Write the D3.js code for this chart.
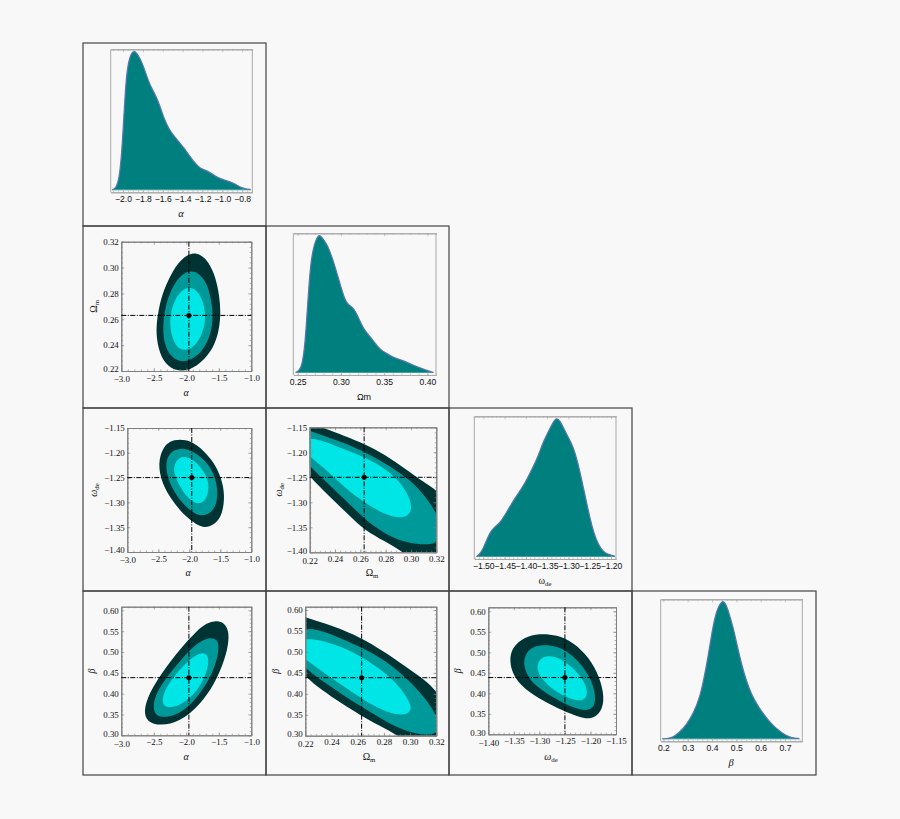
<!DOCTYPE html>
<html><head><meta charset="utf-8">
<script src="https://cdn.jsdelivr.net/npm/d3@7/dist/d3.min.js"></script>
<style>html,body{margin:0;padding:0;background:#f8f8f8}svg{display:block}</style>
</head><body><svg id="c" width="900" height="819"></svg>
<script>
// ---------- marginal densities ----------
const alphaX=[-2.107,-2.07,-2.037,-2.013,-1.997,-1.98,-1.963,-1.943,-1.923,-1.903,-1.879,-1.856,-1.829,-1.795,-1.762,-1.728,-1.688,-1.644,-1.611,-1.567,-1.527,-1.477,-1.426,-1.376,-1.326,-1.275,-1.225,-1.174,-1.124,-1.057,-.99,-.889,-.822,-.772,-.715];
const alphaP=[0,.012,.085,.266,.459,.676,.845,.93,.978,1.003,1.005,.986,.954,.899,.826,.761,.708,.64,.568,.483,.43,.382,.338,.295,.242,.193,.157,.143,.126,.092,.072,.051,.019,.007,.002];
const omegaMX=[.2477,.2519,.2554,.2585,.2608,.2631,.2654,.2681,.2708,.2739,.2758,.2797,.2847,.2893,.294,.299,.304,.3078,.3144,.3194,.326,.3337,.3395,.3453,.353,.3607,.3703,.3819,.3935,.407];
const omegaMP=[0,.015,.058,.203,.421,.639,.809,.906,.966,1.003,1.005,.978,.93,.852,.76,.651,.542,.499,.477,.416,.319,.264,.215,.167,.14,.109,.092,.058,.029,0];
const wdeX=[-1.5157,-1.5078,-1.5,-1.4922,-1.4828,-1.4726,-1.4608,-1.4491,-1.4334,-1.4178,-1.4021,-1.3865,-1.3731,-1.359,-1.3473,-1.3356,-1.3277,-1.3199,-1.3081,-1.2948,-1.2847,-1.2729,-1.2612,-1.2494,-1.24,-1.2298,-1.2181,-1.2063,-1.1907];
const wdeP=[0,.019,.058,.119,.184,.216,.245,.301,.386,.459,.532,.629,.714,.835,.908,.98,1.01,.988,.913,.835,.762,.617,.447,.277,.167,.087,.034,.015,.002];
const betaX=[.196,.2205,.241,.2685,.2959,.3233,.3507,.3671,.3849,.3986,.4123,.426,.4397,.4493,.4603,.474,.4877,.5014,.5219,.5425,.563,.5904,.6178,.6452,.6726,.7,.7274,.7589];
const betaP=[.002,.002,.012,.051,.105,.185,.307,.441,.61,.766,.893,.966,1.003,1.005,.971,.893,.807,.698,.539,.417,.32,.234,.166,.107,.063,.027,.007,.002];

// ---------- contours, [x, y] in data units ----------
const aM_out=[[-1.944,.3102],[-1.79,.3092],[-1.662,.3032],[-1.559,.2916],[-1.503,.2775],[-1.482,.2633],[-1.523,.2478],[-1.636,.2349],[-1.841,.2246],[-2.046,.2208],[-2.226,.2226],[-2.379,.2311],[-2.446,.2453],[-2.446,.2581],[-2.379,.2762],[-2.277,.2891],[-2.123,.3032]];
const aM_mid=[[-1.944,.2968],[-1.815,.295],[-1.697,.2878],[-1.626,.2749],[-1.595,.262],[-1.636,.2478],[-1.764,.2355],[-1.944,.229],[-2.097,.228],[-2.241,.2324],[-2.328,.2414],[-2.354,.2543],[-2.313,.2697],[-2.226,.2826],[-2.097,.2929]];
const aM_in=[[-1.933,.2844],[-1.831,.2813],[-1.749,.2736],[-1.708,.2633],[-1.738,.2517],[-1.841,.2414],[-1.969,.2368],[-2.097,.237],[-2.19,.2427],[-2.241,.253],[-2.241,.2633],[-2.174,.2749],[-2.056,.2826]];

const aW_out=[[-2.151,-1.1749],[-1.962,-1.1789],[-1.774,-1.197],[-1.613,-1.2206],[-1.495,-1.2508],[-1.441,-1.2844],[-1.478,-1.3214],[-1.586,-1.3415],[-1.774,-1.3503],[-1.935,-1.3382],[-2.124,-1.318],[-2.312,-1.2878],[-2.446,-1.2542],[-2.484,-1.2206],[-2.419,-1.1937],[-2.312,-1.1789]];
const aW_mid=[[-2.151,-1.1923],[-1.989,-1.1957],[-1.801,-1.2105],[-1.64,-1.234],[-1.559,-1.2642],[-1.559,-1.2978],[-1.64,-1.318],[-1.801,-1.3267],[-1.962,-1.318],[-2.151,-1.2945],[-2.285,-1.2676],[-2.366,-1.2374],[-2.355,-1.2138],[-2.285,-1.1991]];
const aW_in=[[-2.124,-1.2078],[-1.989,-1.2105],[-1.828,-1.2273],[-1.71,-1.2508],[-1.688,-1.2743],[-1.747,-1.2965],[-1.882,-1.3032],[-2.016,-1.2911],[-2.151,-1.2676],[-2.247,-1.2407],[-2.231,-1.2206]];

const mW_out=[[.2084,-1.1347],[.22,-1.1447],[.2295,-1.1487],[.2479,-1.168],[.2637,-1.1833],[.2795,-1.2047],[.2953,-1.2327],[.3111,-1.2613],[.32,-1.2747],[.3321,-1.3113],[.3374,-1.378],[.3268,-1.4247],[.3111,-1.4313],[.2939,-1.4],[.2795,-1.378],[.2637,-1.3567],[.2505,-1.3247],[.2347,-1.286],[.22,-1.2493],[.2084,-1.2113],[.2032,-1.1647]];
const mW_mid=[[.2111,-1.1513],[.22,-1.1567],[.2268,-1.1633],[.2479,-1.1813],[.2637,-1.2],[.2795,-1.2213],[.2953,-1.248],[.3084,-1.278],[.32,-1.318],[.3242,-1.358],[.32,-1.3833],[.3111,-1.3847],[.2979,-1.3813],[.2821,-1.368],[.2637,-1.3347],[.2505,-1.3013],[.2347,-1.2633],[.22,-1.228],[.2124,-1.2047],[.2084,-1.178]];
const mW_in=[[.22,-1.1713],[.2321,-1.178],[.2479,-1.1947],[.2637,-1.21],[.2768,-1.228],[.29,-1.2547],[.2979,-1.2847],[.3011,-1.3113],[.2979,-1.328],[.29,-1.3313],[.2795,-1.3247],[.2637,-1.3013],[.2479,-1.2713],[.2347,-1.238],[.22,-1.2093],[.2137,-1.1913],[.2132,-1.1747]];

const aB_out=[[-1.585,.5712],[-1.431,.5688],[-1.354,.5448],[-1.379,.5048],[-1.482,.4568],[-1.636,.4088],[-1.841,.3688],[-2.097,.3368],[-2.379,.3264],[-2.585,.3352],[-2.636,.3608],[-2.559,.4008],[-2.354,.4528],[-2.097,.5048],[-1.841,.5488],[-1.687,.5664]];
const aB_mid=[[-1.662,.5328],[-1.533,.5288],[-1.503,.5048],[-1.585,.4568],[-1.738,.4128],[-1.944,.3728],[-2.174,.3488],[-2.405,.3448],[-2.497,.3592],[-2.482,.3928],[-2.328,.4328],[-2.097,.4768],[-1.867,.5168]];
const aB_in=[[-1.764,.4984],[-1.677,.4912],[-1.662,.4688],[-1.738,.4328],[-1.892,.3968],[-2.097,.3728],[-2.303,.3664],[-2.369,.3808],[-2.328,.4088],[-2.149,.4488],[-1.944,.4824]];

const mB_out=[[.2121,.592],[.22,.5824],[.235,.5681],[.2503,.5506],[.263,.5323],[.2783,.5045],[.2961,.4663],[.3113,.4329],[.32,.4074],[.3292,.3613],[.3317,.3056],[.3164,.2737],[.3012,.2777],[.291,.3],[.2757,.3255],[.263,.3469],[.2477,.3772],[.2325,.409],[.22,.4408],[.2121,.4726],[.2083,.5442]];
const mB_mid=[[.22,.5601],[.235,.5482],[.2503,.5283],[.263,.5108],[.2783,.4846],[.2935,.4488],[.3088,.401],[.32,.3517],[.3228,.3215],[.32,.3072],[.3139,.3008],[.3012,.3072],[.2884,.3215],[.2757,.3453],[.263,.3692],[.2477,.3994],[.2325,.4313],[.22,.4607],[.2134,.4885],[.2121,.5363]];
const mB_in=[[.22,.5323],[.2325,.5283],[.2477,.5124],[.263,.4885],[.2783,.4567],[.291,.4209],[.2999,.3811],[.3012,.3597],[.2961,.3493],[.2859,.3517],[.2706,.3732],[.2554,.405],[.2401,.4368],[.2274,.4663],[.22,.4822],[.2147,.4965],[.2147,.5243]];

const wB_out=[[-1.2988,.5431],[-1.2662,.5398],[-1.2336,.522],[-1.2042,.4854],[-1.1846,.4407],[-1.1748,.3919],[-1.1813,.3553],[-1.2009,.339],[-1.2238,.3447],[-1.2531,.3593],[-1.2923,.3837],[-1.3282,.4122],[-1.3478,.4407],[-1.3563,.4772],[-1.351,.5098],[-1.3282,.5341]];
const wB_mid=[[-1.2923,.5163],[-1.2662,.5138],[-1.2368,.4935],[-1.2107,.4569],[-1.1944,.4163],[-1.1911,.3756],[-1.2042,.3593],[-1.227,.3634],[-1.2597,.3821],[-1.2956,.4081],[-1.3217,.439],[-1.3302,.4732],[-1.3236,.4976],[-1.3119,.5114]];
const wB_in=[[-1.2825,.4911],[-1.2597,.4854],[-1.2303,.4569],[-1.2107,.4244],[-1.2061,.3959],[-1.2172,.3813],[-1.2401,.3878],[-1.2727,.4081],[-1.2956,.4366],[-1.3047,.461],[-1.2988,.4829]];

// ---------- best-fit point and tick labels ----------
const bestAlpha=-1.96, bestOmegaM=.263, bestWde=-1.25, bestBeta=.4384;
const alphaTicks=[-3,-2.5,-2,-1.5,-1];
const omegaTicks=[.22,.24,.26,.28,.30,.32];
const wdeTicks=[-1.40,-1.35,-1.30,-1.25,-1.20,-1.15];
const betaTicks=[.30,.35,.40,.45,.50,.55,.60];
const alphaDensityTicks=[-2,-1.8,-1.6,-1.4,-1.2,-1,-.8];
const omegaDensityTicks=[.25,.30,.35,.40];
const wdeDensityTicks=[-1.5,-1.45,-1.4,-1.35,-1.3,-1.25,-1.2];
const betaDensityTicks=[.2,.3,.4,.5,.6,.7];

// ---------- layout ----------
const svg=d3.select("#c");
svg.append("rect").attr("width",900).attr("height",819).attr("fill","#f8f8f8");
const COLS=[83,266,449,632,816], ROWS=[43,226,408,591,775];
const bandColors=["#003333","#009999","#00e6e6"];
const SERIF="'Liberation Serif',serif", SANS="'Liberation Sans',sans-serif";
const range=(a,b,s)=>d3.range(Math.round((b-a)/s)+1).map(i=>+(a+i*s).toFixed(5));

// cell boxes
[[0,1],[1,2],[2,3],[3,4]].forEach(([r,n])=>{
  d3.range(n).forEach(c=>{
    svg.append("rect").attr("x",COLS[c]).attr("y",ROWS[r]).attr("width",COLS[c+1]-COLS[c]).attr("height",ROWS[r+1]-ROWS[r])
      .attr("fill","none").attr("stroke","#444").attr("stroke-width",1.2);
  });
});

let clipId=0;
function axes(g,x,y,o){
  const [x0,x1]=x.range(), [y0,y1]=y.range();
  const col=o.color;
  const deco=a=>{a.select(".domain").attr("stroke",col).attr("stroke-width",1);a.selectAll("line").attr("stroke",col).attr("stroke-width",.6);};
  const side=(axis,tr,labels)=>{
    const s=g.append("g").attr("transform",tr).call(axis);
    deco(s);
    s.selectAll("text").attr("font-family",o.font).attr("font-size",o.size).attr("fill","#111");
    if(!labels) s.selectAll("text").remove();
    return s;
  };
  side(d3.axisBottom(x).tickValues(o.xMinor).tickSize(-1.6).tickSizeOuter(0).tickFormat(""),`translate(0,${y0})`,false);
  side(d3.axisTop(x).tickValues(o.xMinor).tickSize(-1.6).tickSizeOuter(0).tickFormat(""),`translate(0,${y1})`,false);
  const bottom=side(d3.axisBottom(x).tickValues(o.xTicks).tickSize(-3).tickSizeOuter(0).tickPadding(o.padX).tickFormat(d3.format(o.xFmt)),`translate(0,${y0})`,true);
  side(d3.axisTop(x).tickValues(o.xTicks).tickSize(-3).tickSizeOuter(0).tickFormat(""),`translate(0,${y1})`,false);
  if(o.yTicks){
    side(d3.axisLeft(y).tickValues(o.yMinor).tickSize(-1.6).tickSizeOuter(0).tickFormat(""),`translate(${x0},0)`,false);
    side(d3.axisRight(y).tickValues(o.yMinor).tickSize(-1.6).tickSizeOuter(0).tickFormat(""),`translate(${x1},0)`,false);
    const left=side(d3.axisLeft(y).tickValues(o.yTicks).tickSize(-3).tickSizeOuter(0).tickPadding(2.5).tickFormat(d3.format(".2f")),`translate(${x0},0)`,true);
    side(d3.axisRight(y).tickValues(o.yTicks).tickSize(-3).tickSizeOuter(0).tickFormat(""),`translate(${x1},0)`,false);
    // keep the two labels at the lower-left corner apart
    left.selectAll("text").filter((d,i)=>i===0).attr("y",-1.9);
    const first=bottom.selectAll("text").filter((d,i)=>i===0);
    first.attr("y",+first.attr("y")+1.9);
  } else {
    g.append("line").attr("x1",x0).attr("x2",x0).attr("y1",y0).attr("y2",y1).attr("stroke",col);
    g.append("line").attr("x1",x1).attr("x2",x1).attr("y1",y0).attr("y2",y1).attr("stroke",col);
  }
}

function label(px,py,main,sub,o){
  const t=svg.append("text").attr("text-anchor","middle").attr("fill","#111").attr("font-family",o.font).attr("font-size",o.size);
  if(o.rotate) t.attr("transform",`translate(${px},${py}) rotate(-90)`); else t.attr("x",px).attr("y",py);
  t.append("tspan").attr("font-style",o.italic?"italic":"normal").text(main);
  if(sub) t.append("tspan").attr("font-size",o.size*.68).attr("dy",1.8).text(sub);
}

function densityPanel(p){
  const x=d3.scaleLinear().domain(p.xd).range([p.l,p.r]);
  const y=d3.scaleLinear().domain([-.018,1.02]).range([p.b,p.t]);
  const g=svg.append("g");
  const pts=p.xs.map((v,i)=>[v,p.ps[i]]);
  g.append("path").datum(pts).attr("fill","#007f7f")
    .attr("d",d3.area().x(d=>x(d[0])).y0(y(0)).y1(d=>y(d[1])).curve(d3.curveBasis));
  g.append("line").attr("x1",x(p.xs[0])).attr("x2",x(p.xs[p.xs.length-1])).attr("y1",y(0)).attr("y2",y(0)).attr("stroke","#3f9a9c").attr("stroke-width",.9);
  g.append("path").datum(pts).attr("fill","none").attr("stroke","#5578ab").attr("stroke-width",1.25)
    .attr("d",d3.line().x(d=>x(d[0])).y(d=>y(d[1])).curve(d3.curveBasis));
  axes(g,x,y,{color:"#a8a8a8",font:SANS,size:8.6,xTicks:p.ticks,xMinor:p.minor,xFmt:p.fmt,padX:4});
  label(p.lx,p.ly,p.main,p.sub,{font:p.lfont||SANS,size:p.lsize||9,italic:p.italic});
}

function contourPanel(p){
  const x=d3.scaleLinear().domain(p.xd).range([p.l,p.r]);
  const y=d3.scaleLinear().domain(p.yd).range([p.b,p.t]);
  const g=svg.append("g");
  const id="clip"+(clipId++);
  svg.append("clipPath").attr("id",id).append("rect").attr("x",p.l).attr("y",p.t).attr("width",p.r-p.l).attr("height",p.b-p.t);
  const inner=g.append("g").attr("clip-path",`url(#${id})`);
  // basis smoothing pulls a closed contour in slightly; grow ("inflate") about its centre to compensate
  const k=p.inflate||1;
  const ln=b=>{
    const cx=d3.mean(b,d=>x(d[0])), cy=d3.mean(b,d=>y(d[1]));
    return d3.line().x(d=>cx+(x(d[0])-cx)*k).y(d=>cy+(y(d[1])-cy)*k).curve(d3.curveBasisClosed)(b);
  };
  p.bands.forEach((b,i)=>inner.append("path").attr("fill",bandColors[i]).attr("d",ln(b)));
  axes(g,x,y,{color:"#808080",font:SERIF,size:8.9,xTicks:p.xt,xMinor:p.xm,xFmt:p.xf,padX:3.2,yTicks:p.yt,yMinor:p.ym});
  const dash="5 1.5 1 1.5";
  g.append("line").attr("x1",p.l).attr("x2",p.r).attr("y1",y(p.by)).attr("y2",y(p.by)).attr("stroke","#000").attr("stroke-width",1).attr("stroke-dasharray",dash);
  g.append("line").attr("y1",p.t).attr("y2",p.b).attr("x1",x(p.bx)).attr("x2",x(p.bx)).attr("stroke","#000").attr("stroke-width",1).attr("stroke-dasharray",dash);
  g.append("circle").attr("cx",x(p.bx)).attr("cy",y(p.by)).attr("r",2.5).attr("fill","#000");
  label(p.lx,p.ly,p.xl[0],p.xl[1],{font:SERIF,size:10,italic:p.xl[0]!=="Ω"});
  label(p.yx,(p.t+p.b)/2,p.yl[0],p.yl[1],{font:SERIF,size:10,italic:p.yl[0]!=="Ω",rotate:true});
}

densityPanel({l:110.7,r:252.3,t:49.3,b:192.3,xd:[-2.124,-.698],xs:alphaX,ps:alphaP,ticks:alphaDensityTicks,minor:range(-2.1,-.7,.05),fmt:".1f",lx:181,ly:217,main:"α",italic:true,lfont:SERIF,lsize:10.5});
densityPanel({l:293.3,r:436,t:233.3,b:375,xd:[.245,.41],xs:omegaMX,ps:omegaMP,ticks:omegaDensityTicks,minor:range(.25,.41,.01),fmt:".2f",lx:364,ly:400,main:"Ωm"});
densityPanel({l:474.3,r:616,t:416.3,b:559,xd:[-1.5211,-1.1883],xs:wdeX,ps:wdeP,ticks:wdeDensityTicks,minor:range(-1.52,-1.19,.01),fmt:".2f",lx:545,ly:584,main:"ω",sub:"de",lfont:SERIF,lsize:10});
densityPanel({l:660.7,r:802.3,t:599.3,b:741.3,xd:[.189,.7712],xs:betaX,ps:betaP,ticks:betaDensityTicks,minor:range(.2,.76,.02),fmt:".1f",lx:731,ly:766,main:"β",italic:true,lfont:SERIF,lsize:10.5});

const aM=range(-3,-1,.1), wM=range(-1.4,-1.15,.01), oM=range(.22,.32,.004), bM=range(.3,.6,.01);
const A={xd:[-3,-1],xt:alphaTicks,xm:aM,xf:".1f",bx:bestAlpha,xl:["α"],inflate:1.03};
const O={xd:[.22,.32],xt:omegaTicks,xm:oM,xf:".2f",bx:.2630,xl:["Ω","m"],inflate:1};
const W={xt:wdeTicks,xm:wM,xf:".2f",inflate:1.03};
contourPanel({...A,l:121.3,r:251.3,t:241.7,b:371,yd:[.22,.32],yt:omegaTicks,ym:oM,by:bestOmegaM,bands:[aM_out,aM_mid,aM_in],lx:186,ly:396,yl:["Ω","m"],yx:97});
contourPanel({...A,l:127.3,r:251.3,t:428,b:552,yd:[-1.4,-1.15],yt:wdeTicks,ym:wM,by:bestWde,bands:[aW_out,aW_mid,aW_in],lx:188,ly:576,yl:["ω","de"],yx:97});
contourPanel({...O,l:309.7,r:436.3,t:427.3,b:552.3,yd:[-1.4,-1.15],yt:wdeTicks,ym:wM,by:bestWde,bands:[mW_out,mW_mid,mW_in],lx:372,ly:576,yl:["ω","de"],yx:282});
contourPanel({...A,l:121.3,r:251.3,t:606.7,b:735.3,yd:[.3,.6088],yt:betaTicks,ym:bM,by:bestBeta,bands:[aB_out,aB_mid,aB_in],lx:186,ly:760,yl:["β"],yx:95});
contourPanel({...O,l:305.3,r:436.3,t:606.7,b:735.7,yd:[.3,.6079],yt:betaTicks,ym:bM,by:bestBeta,bands:[mB_out,mB_mid,mB_in],lx:369,ly:760,yl:["β"],yx:279});
contourPanel({...W,xd:[-1.4,-1.15],l:488.3,r:616,t:607.3,b:734.3,yd:[.3,.6098],yt:betaTicks,ym:bM,bx:bestWde,by:bestBeta,bands:[wB_out,wB_mid,wB_in],lx:551,ly:760,xl:["ω","de"],yl:["β"],yx:461});
</script></body></html>
